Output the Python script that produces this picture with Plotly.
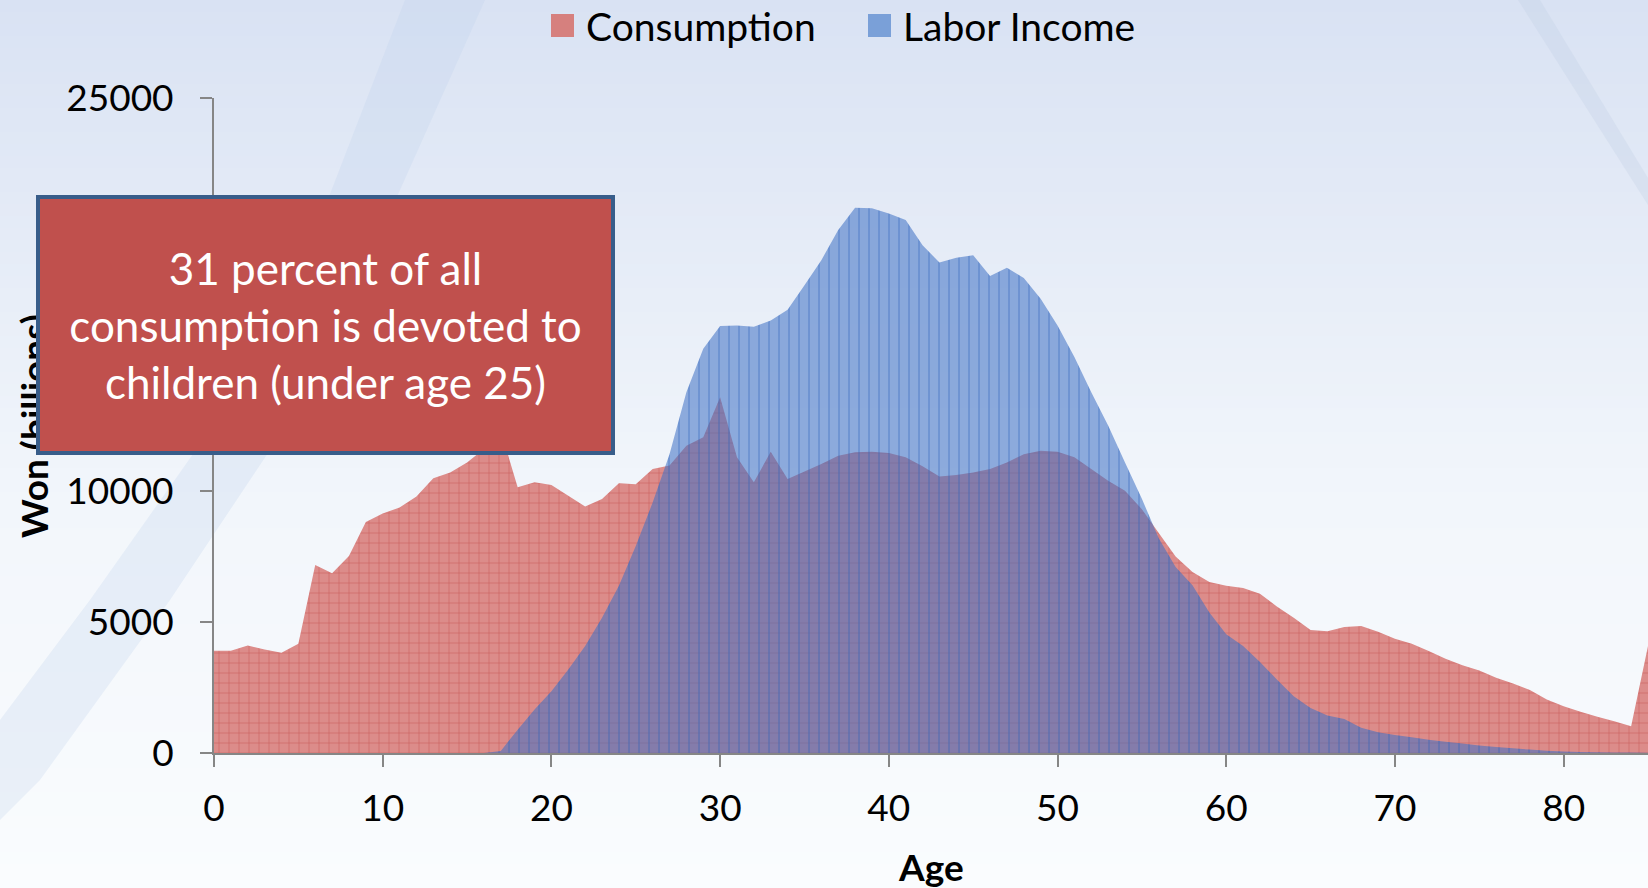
import plotly.graph_objects as go

# ---------------- data ----------------
ages = list(range(0, 86))
consumption = [
    3900, 3900, 4100, 3950, 3830, 4170, 7180, 6860, 7520, 8820,
    9140, 9370, 9790, 10490, 10710, 11090, 11600, 12300, 10140, 10330,
    10230, 9820, 9410, 9690, 10300, 10260, 10840, 10970, 11730, 12050,
    13580, 11290, 10330, 11500, 10460, 10740, 11030, 11350, 11480, 11500,
    11450, 11290, 10940, 10550, 10610, 10710, 10840, 11090, 11400, 11540,
    11500, 11290, 10840, 10390, 10010, 9300, 8400, 7500, 6910, 6530,
    6380, 6300, 6080, 5590, 5160, 4690, 4650, 4810, 4850, 4630,
    4360, 4170, 3890, 3600, 3350, 3150, 2870, 2650, 2400, 2040,
    1780, 1570, 1380, 1210, 1020, 4080,
]
labor_income = [
    0, 0, 0, 0, 0, 0, 0, 0, 0, 0,
    0, 0, 0, 0, 0, 0, 0, 80, 890, 1660,
    2360, 3190, 4080, 5160, 6380, 7900, 9560, 11400, 13770, 15430,
    16300, 16320, 16270, 16510, 16920, 17850, 18810, 19960, 20810, 20790,
    20590, 20340, 19380, 18720, 18900, 19000, 18210, 18520, 18130, 17340,
    16320, 15110, 13770, 12500, 11090, 9700, 8200, 7100, 6400, 5360,
    4530, 4080, 3470, 2810, 2170, 1720, 1430, 1300, 960, 790,
    690, 600, 510, 430, 360, 290, 230, 180, 130, 90,
    60, 40, 30, 20, 15, 10,
]
x_ticks = [0, 10, 20, 30, 40, 50, 60, 70, 80]
y_ticks = [0, 5000, 10000, 15000, 20000, 25000]
series_names = ["Consumption", "Labor Income"]
series_colors = ["rgb(214,128,126)", "rgb(122,160,216)"]
callout = "31 percent of all<br>consumption is devoted to<br>children (under age 25)"

# ---------------- layout geometry ----------------
W, H = 1648, 888
L, R, T, B = 214, 0, 98, 135
PW, PH = W - L - R, H - T - B
FONT = "Lato"


def px(x):
    return (x - L) / PW


def py(y):
    return (H - B - y) / PH


fig = go.Figure()

fig.add_trace(go.Scatter(
    x=ages, y=consumption, name=series_names[0],
    mode="none", fill="tozeroy",
    fillcolor="rgb(220,140,138)",
    fillpattern=dict(shape="+", fgcolor="rgba(190,66,64,0.85)", size=10,
                     solidity=0.17, fillmode="overlay"),
    hoverinfo="skip", showlegend=False,
))
fig.add_trace(go.Scatter(
    x=ages, y=labor_income, name=series_names[1],
    mode="none", fill="tozeroy",
    fillcolor="rgba(62,112,196,0.56)",
    fillpattern=dict(shape="|", fgcolor="rgba(60,108,192,0.9)", size=10,
                     solidity=0.16, fillmode="overlay"),
    hoverinfo="skip", showlegend=False,
))

# ---------------- background (slide gradient + streaks) ----------------
stops = [(0, (217, 226, 243)), (300, (232, 238, 248)), (500, (242, 246, 251)), (888, (250, 252, 254))]


def bg_color(y):
    for (y0, c0), (y1, c1) in zip(stops[:-1], stops[1:]):
        if y0 <= y <= y1:
            t = (y - y0) / (y1 - y0)
            return "rgb(%d,%d,%d)" % tuple(round(a + (b - a) * t) for a, b in zip(c0, c1))
    return "rgb(%d,%d,%d)" % stops[-1][1]


shapes = []
N = 74
for i in range(N):
    y0 = i * H / N
    y1 = (i + 1) * H / N
    shapes.append(dict(type="rect", xref="paper", yref="paper",
                       x0=px(0), x1=px(W), y0=py(y1 + 0.5), y1=py(y0),
                       fillcolor=bg_color((y0 + y1) / 2), line=dict(width=0),
                       layer="below"))


def path(points):
    return "M " + " L ".join("%f,%f" % (px(a), py(b)) for a, b in points) + " Z"


shapes.append(dict(type="path", xref="paper", yref="paper", layer="below",
                   path=path([(405, 0), (485, 0), (400, 190), (290, 420), (170, 600), (40, 780), (0, 820),
                              (0, 720), (90, 600), (210, 430), (320, 220)]),
                   fillcolor="rgba(190,210,236,0.26)", line=dict(width=0)))
shapes.append(dict(type="path", xref="paper", yref="paper", layer="below",
                   path=path([(1518, 0), (1540, 0), (1648, 178), (1648, 205)]),
                   fillcolor="rgba(190,204,226,0.28)", line=dict(width=0)))

# manual legend swatches (square)
legend_swatches = [(551, 14), (868, 14)]
for (sx, sy), col in zip(legend_swatches, series_colors):
    shapes.append(dict(type="rect", xref="paper", yref="paper",
                       x0=px(sx), x1=px(sx + 23), y0=py(sy + 23), y1=py(sy),
                       fillcolor=col, line=dict(width=0), layer="above"))

annotations = [
    dict(text=series_names[0], xref="paper", yref="paper",
         x=px(584), y=py(26), xanchor="left", yanchor="middle", showarrow=False,
         font=dict(family=FONT, size=39, color="black")),
    dict(text=series_names[1], xref="paper", yref="paper",
         x=px(901), y=py(26), xanchor="left", yanchor="middle", showarrow=False,
         font=dict(family=FONT, size=39, color="black")),
    dict(text="<b>Won (billions)</b>", textangle=-90, xref="paper", yref="paper",
         x=px(33), y=py(426), xanchor="center", yanchor="middle", showarrow=False,
         font=dict(family=FONT, size=37, color="black")),
    dict(text="<b>Age</b>", xref="paper", yref="paper",
         x=px(931), y=py(867), xanchor="center", yanchor="middle", showarrow=False,
         font=dict(family=FONT, size=37, color="black")),
    dict(text=callout, xref="paper", yref="paper",
         x=px(325.5), y=py(325), xanchor="center", yanchor="middle", showarrow=False,
         width=571, height=252, align="center", valign="middle",
         bgcolor="#c0504d", bordercolor="#385d8a", borderwidth=4, borderpad=0,
         font=dict(family=FONT, size=44, color="white")),
]

axis_common = dict(showgrid=False, zeroline=False, showline=True,
                   linecolor="#868686", linewidth=2, ticks="outside",
                   ticklen=12, tickwidth=2, tickcolor="#868686",
                   tickfont=dict(family=FONT, size=37, color="black"))

fig.update_layout(
    width=W, height=H, autosize=False,
    margin=dict(l=L, r=R, t=T, b=B, pad=0),
    paper_bgcolor="white", plot_bgcolor="rgba(0,0,0,0)",
    font=dict(family=FONT, color="black"),
    xaxis=dict(range=[0, 85], tickvals=x_ticks, ticklabelstandoff=10, **axis_common),
    yaxis=dict(range=[0, 25000], tickvals=y_ticks, tickformat="d",
               ticklabelstandoff=19, **axis_common),
    showlegend=False,
    shapes=shapes,
    annotations=annotations,
    hovermode=False,
)

fig.write_html("out.html", config={"displayModeBar": False})

# remove the browser's default page margin so the figure fills the window
with open("out.html", "r", encoding="utf-8") as f:
    html = f.read()
html = html.replace("<head>", "<head><style>html,body{margin:0;padding:0;overflow:hidden;}</style>", 1)
with open("out.html", "w", encoding="utf-8") as f:
    f.write(html)
